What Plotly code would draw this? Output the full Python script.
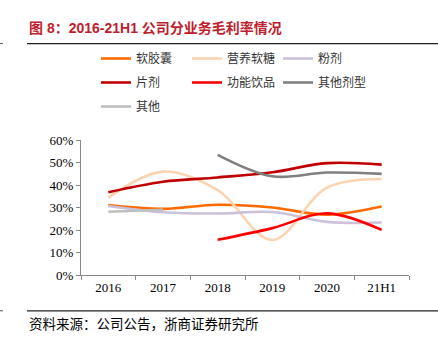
import plotly.graph_objects as go

categories = ["2016", "2017", "2018", "2019", "2020", "21H1"]
soft_capsule = [0.312, 0.295, 0.313, 0.301, 0.269, 0.305]
gummy = [0.345, 0.461, 0.378, 0.156, 0.390, 0.428]
powder = [0.308, 0.280, 0.274, 0.281, 0.237, 0.234]
tablet = [0.369, 0.416, 0.435, 0.458, 0.499, 0.492]
drink = [None, None, 0.157, 0.209, 0.275, 0.201]
other_form = [None, None, 0.536, 0.440, 0.457, 0.451]
other = [0.282, 0.291, None, None, None, None]
y_ticks = [0, 0.1, 0.2, 0.3, 0.4, 0.5, 0.6]

series = [
    ("软胶囊", soft_capsule, "#FF6A00", "legend"),
    ("营养软糖", gummy, "#FCD3B0", "legend"),
    ("粉剂", powder, "#CCC1DA", "legend"),
    ("片剂", tablet, "#C00000", "legend2"),
    ("功能饮品", drink, "#FF0000", "legend2"),
    ("其他剂型", other_form, "#808080", "legend2"),
    ("其他", other, "#BFBFBF", "legend3"),
]

W_, H_ = 438, 346
L, R, T, B = 81, 409, 134, 275
PW, PH = R - L, B - T


def xp(px):
    return (px - L) / PW


def yp(py):
    return (B - py) / PH


fig = go.Figure()
for name, vals, color, lg in series:
    fig.add_trace(go.Scatter(
        x=categories, y=vals, name=name, mode="lines",
        line=dict(color=color, width=2.6, shape="spline", smoothing=1),
        connectgaps=False, legend=lg,
    ))

CJK = "Noto Sans CJK SC"
SERIF = "Liberation Serif, Noto Sans CJK SC"


def legend_row(top):
    return dict(
        orientation="h", xref="container", yref="container",
        x=96 / W_, y=1 - top / H_, xanchor="left", yanchor="top",
        entrywidth=46, entrywidthmode="pixels",
        font=dict(family=CJK, size=12, color="#333333"),
        bgcolor="rgba(0,0,0,0)", traceorder="normal",
    )


fig.update_layout(
    width=W_, height=H_,
    margin=dict(l=L, r=W_ - R, t=T, b=H_ - B),
    paper_bgcolor="white", plot_bgcolor="white",
    showlegend=True,
    legend=legend_row(44),
    legend2=legend_row(68),
    legend3=legend_row(92),
    xaxis=dict(
        type="category", range=[-0.5, 5.5], tickson="boundaries",
        ticks="outside", ticklen=4, tickcolor="#898989",
        showline=True, linecolor="#898989", linewidth=1,
        showgrid=False, zeroline=False,
        tickfont=dict(family=SERIF, size=13, color="#000000"),
    ),
    yaxis=dict(
        range=[0, 0.6], tickvals=y_ticks, tickformat=".0%",
        ticks="outside", ticklen=4, tickcolor="#898989",
        showline=True, linecolor="#898989", linewidth=1,
        showgrid=False, zeroline=False,
        tickfont=dict(family=SERIF, size=13, color="#000000"),
    ),
)

# title
fig.add_annotation(
    text="<b>图 8：2016-21H1 公司分业务毛利率情况</b>",
    xref="paper", yref="paper", x=xp(27), y=yp(16),
    xanchor="left", yanchor="middle", showarrow=False,
    font=dict(family="Liberation Sans, Noto Sans CJK SC", size=14, color="#BE1E2D"),
)
# source
fig.add_annotation(
    text="资料来源：公司公告，浙商证券研究所",
    xref="paper", yref="paper", x=xp(27), y=yp(325),
    xanchor="left", yanchor="middle", showarrow=False,
    font=dict(family=CJK, size=13.5, color="#000000"),
)

# separator lines
for py in (32.5, 312.5):
    fig.add_shape(type="line", xref="paper", yref="paper",
                  x0=xp(27), x1=xp(438), y0=yp(py), y1=yp(py),
                  line=dict(color="#222222", width=1.2))
    fig.add_shape(type="line", xref="paper", yref="paper",
                  x0=xp(0), x1=xp(3), y0=yp(py), y1=yp(py),
                  line=dict(color="#555555", width=1))

fig.write_html("out.html")
